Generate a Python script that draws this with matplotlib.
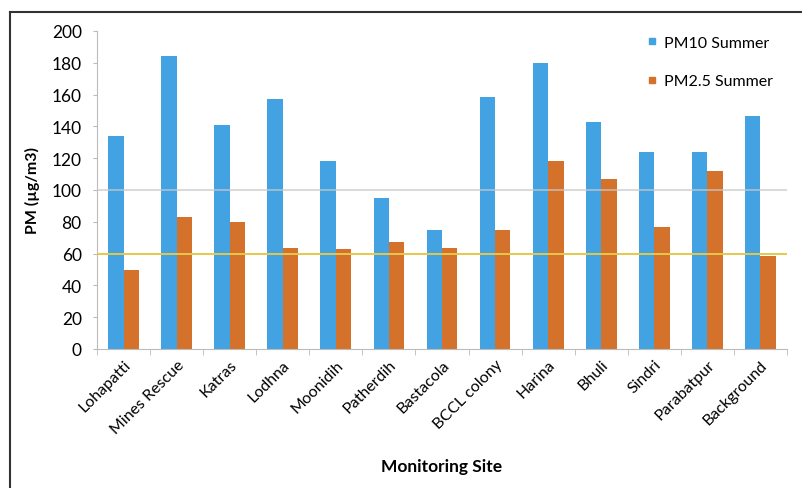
import numpy as np
import matplotlib.pyplot as plt
from matplotlib.lines import Line2D

plt.rcParams['font.family'] = ['Lato', 'DejaVu Sans']

# --- Data ---
sites = ['Lohapatti', 'Mines Rescue', 'Katras', 'Lodhna', 'Moonidih', 'Patherdih',
         'Bastacola', 'BCCL colony', 'Harina', 'Bhuli', 'Sindri', 'Parabatpur',
         'Background']
pm10_summer = [134, 184.5, 141, 157, 118.5, 95, 75, 158.5, 180, 143, 124, 124, 146.5]
pm25_summer = [49.5, 83, 80, 63.5, 63, 67, 63.5, 75, 118.5, 107, 77, 112, 58.5]
pm10_limit = 100
pm25_limit = 60

blue = '#42a2e2'
orange = '#d4722b'

fig = plt.figure(figsize=(8.03, 4.89), dpi=100)
ax = fig.add_axes([97 / 803, 1 - 350 / 489, 690 / 803, 318 / 489])

x = np.arange(len(sites))
w = 0.29
ax.bar(x - w / 2, pm10_summer, w, color=blue, label='PM10 Summer', zorder=2)
ax.bar(x + w / 2, pm25_summer, w, color=orange, label='PM2.5 Summer', zorder=2)

# standard limit lines, drawn over the bars
ax.axhline(pm10_limit, color='#c8c8c8', lw=1.2, alpha=0.8, zorder=3)
ax.axhline(pm25_limit, color='#e6c84a', lw=1.4, zorder=3)

ax.set_xlim(-0.5, len(sites) - 0.5)
ax.set_ylim(0, 200)
ax.set_yticks(range(0, 201, 20))
ax.tick_params(axis='y', labelsize=12.5, length=3, color='#bbbbbb', pad=8)

ax.set_xticks(x)
ax.set_xticklabels(sites, rotation=45, ha='right', rotation_mode='anchor', fontsize=11.5)
ax.tick_params(axis='x', length=0, pad=6)
ax.set_xticks(np.arange(len(sites) + 1) - 0.5, minor=True)
ax.tick_params(axis='x', which='minor', length=4, color='#bbbbbb')

for s in ['top', 'right']:
    ax.spines[s].set_visible(False)
for s in ['left', 'bottom']:
    ax.spines[s].set_color('#bbbbbb')
    ax.spines[s].set_linewidth(0.8)

ax.set_ylabel('PM (µg/m3)', fontsize=11.5, fontweight='bold', labelpad=8)
ax.set_xlabel('Monitoring Site', fontsize=12.5, fontweight='bold', labelpad=16)

handles = [Line2D([], [], marker='s', ls='', ms=5, color=blue),
           Line2D([], [], marker='s', ls='', ms=5, color=orange)]
ax.legend(handles, ['PM10 Summer', 'PM2.5 Summer'], loc='upper right',
          bbox_to_anchor=(1.0, 1.03), frameon=False, fontsize=11.5,
          labelspacing=1.5, handletextpad=0.2, handlelength=1.0)

# outer frame
fig.add_artist(Line2D([10 / 803, 10 / 803], [1 - 488 / 489, 1 - 13 / 489],
                      color='#333333', lw=1.5, transform=fig.transFigure))
fig.add_artist(Line2D([10 / 803, 1], [1 - 13 / 489, 1 - 13 / 489],
                      color='#333333', lw=1.5, transform=fig.transFigure))

fig.savefig('out.png', dpi=100)
